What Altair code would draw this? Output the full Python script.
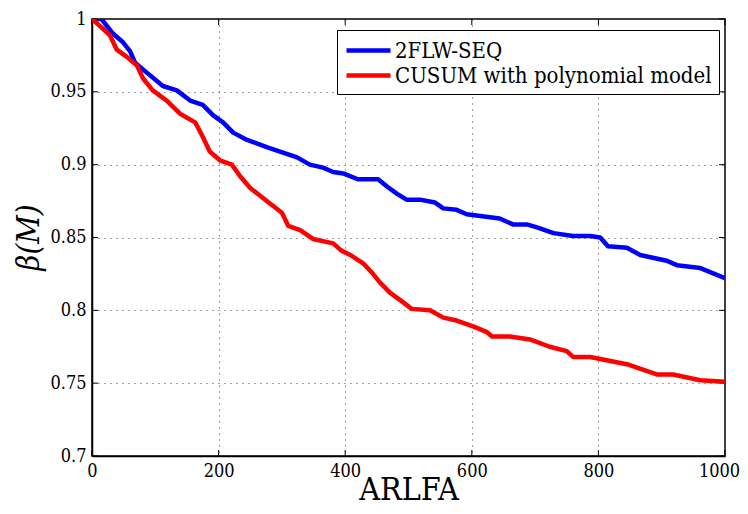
import altair as alt
import pandas as pd

blue_x = [0, 15, 33, 49, 60, 68, 87, 112, 134, 155, 175, 191, 207, 223, 245, 276, 297, 324, 344,
          365, 381, 397, 420, 452, 466, 482, 497, 518, 542, 555, 576, 592, 644, 665, 687, 703,
          729, 760, 787, 803, 815, 845, 866, 908, 924, 961, 1000]
blue_y = [1.0, 1.0, 0.990, 0.984, 0.978, 0.970, 0.963, 0.954, 0.951, 0.944, 0.941, 0.934, 0.929,
          0.922, 0.917, 0.912, 0.909, 0.905, 0.900, 0.898, 0.895, 0.894, 0.890, 0.890, 0.885,
          0.880, 0.876, 0.876, 0.874, 0.870, 0.869, 0.866, 0.863, 0.859, 0.859, 0.857, 0.853,
          0.851, 0.851, 0.850, 0.844, 0.843, 0.838, 0.834, 0.831, 0.829, 0.822]

red_x = [0, 13, 28, 39, 55, 71, 81, 96, 118, 139, 163, 174, 186, 202, 221, 234, 250, 276, 300,
         310, 329, 349, 381, 394, 408, 429, 442, 455, 471, 487, 505, 534, 555, 576, 602, 624,
         632, 660, 692, 723, 750, 760, 787, 845, 892, 918, 961, 1000]
red_y = [1.0, 0.995, 0.989, 0.979, 0.974, 0.968, 0.959, 0.951, 0.944, 0.935, 0.929, 0.920,
         0.909, 0.903, 0.900, 0.892, 0.884, 0.875, 0.867, 0.858, 0.855, 0.849, 0.846, 0.841,
         0.838, 0.832, 0.826, 0.819, 0.812, 0.807, 0.801, 0.800, 0.795, 0.793, 0.789, 0.785,
         0.782, 0.782, 0.780, 0.775, 0.772, 0.768, 0.768, 0.763, 0.756, 0.756, 0.752, 0.751]

series = ["2FLW-SEQ", "CUSUM with polynomial model"]
colors = ["#0000ff", "#ff0000"]
x_ticks = [0, 200, 400, 600, 800, 1000]
y_ticks = [0.7, 0.75, 0.8, 0.85, 0.9, 0.95, 1.0]

W, H = 633, 437
TICK = 6

df = pd.concat([
    pd.DataFrame({"x": blue_x, "y": blue_y, "s": series[0], "o": 0}),
    pd.DataFrame({"x": red_x, "y": red_y, "s": series[1], "o": 1}),
])

FONT = "DejaVu Serif Condensed, DejaVu Serif"

common_axis = dict(labelFont=FONT, titleFont=FONT, labelFontSize=18, labelPadding=6,
                   ticks=False, grid=True, gridDash=[1, 5], gridColor="#444", gridWidth=1,
                   domainColor="black", domainWidth=1.5, labelColor="black",
                   titleColor="black", labelFlush=False, titleFontWeight="normal")

xscale = alt.Scale(domain=[0, 1000], nice=False)
yscale = alt.Scale(domain=[0.7, 1.0], nice=False, zero=False)

x_axis = alt.Axis(values=x_ticks, format="d", title="ARLFA", titleFontSize=32,
                  titleY=43, titleBaseline="alphabetic",
                  labelOffset={"condition": {"test": "datum.value >= 1000", "value": -6},
                               "value": 0},
                  **common_axis)
y_axis = alt.Axis(values=y_ticks, format=".2~f", title="β(M)", titleFontSize=31,
                  titleFontStyle="italic", titleX=-54, titleY=218,
                  titleBaseline="alphabetic", **common_axis)

lines = alt.Chart(df).mark_line(strokeWidth=4.5, strokeJoin="round", clip=True).encode(
    x=alt.X("x:Q", scale=xscale, axis=x_axis),
    y=alt.Y("y:Q", scale=yscale, axis=y_axis),
    color=alt.Color("s:N", scale=alt.Scale(domain=series, range=colors),
                    legend=alt.Legend(title=None, orient="none", legendX=245, legendY=11,
                                      symbolType="M-1,0H3", symbolSize=484,
                                      symbolStrokeWidth=4.5, labelOffset=24,
                                      labelFontSize=22, labelFont=FONT,
                                      labelColor="black",
                                      strokeColor="black", fillColor="white", padding=7,
                                      rowPadding=0, labelLimit=400, cornerRadius=0)),
    order="o:Q",
)

ydf = pd.DataFrame({"y": y_ticks})
xdf = pd.DataFrame({"x": x_ticks})
rule = dict(color="black", strokeWidth=1)
tick_left = alt.Chart(ydf).mark_rule(**rule).encode(
    y=alt.Y("y:Q", scale=yscale, axis=y_axis), x=alt.value(0), x2=alt.value(TICK))
tick_right = alt.Chart(ydf).mark_rule(**rule).encode(
    y=alt.Y("y:Q", scale=yscale, axis=y_axis), x=alt.value(W - TICK), x2=alt.value(W))
tick_bottom = alt.Chart(xdf).mark_rule(**rule).encode(
    x=alt.X("x:Q", scale=xscale, axis=x_axis), y=alt.value(H - TICK), y2=alt.value(H))
tick_top = alt.Chart(xdf).mark_rule(**rule).encode(
    x=alt.X("x:Q", scale=xscale, axis=x_axis), y=alt.value(0), y2=alt.value(TICK))

chart = alt.layer(tick_left, tick_right, tick_bottom, tick_top, lines).properties(
    width=W, height=H,
    padding={"left": 84, "top": 11, "right": 15, "bottom": 50},
    autosize=alt.AutoSizeParams(type="none"),
).configure_view(stroke="black", strokeWidth=1.5)

chart.save("out.html", embed_options={"renderer": "svg", "actions": False})
